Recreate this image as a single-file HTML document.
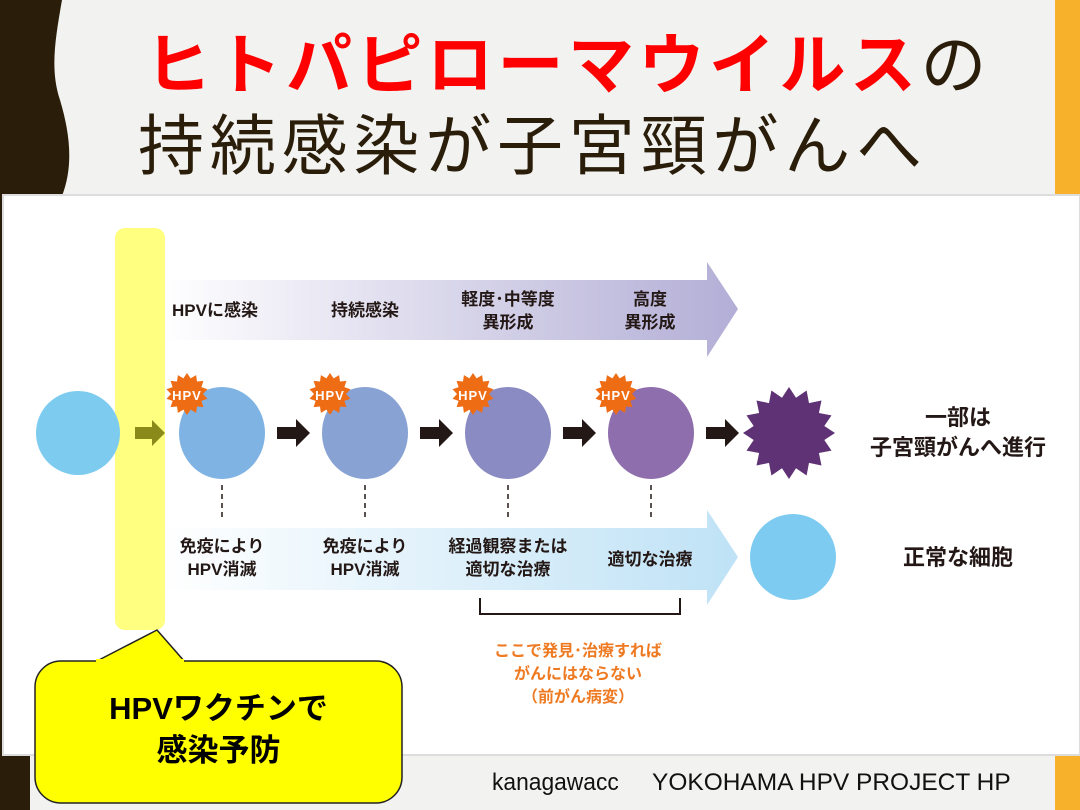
<!DOCTYPE html>
<html><head><meta charset="utf-8"><style>
body{margin:0;width:1080px;height:810px;overflow:hidden;background:#f2f2f0;position:relative;font-family:"Liberation Sans","Noto Sans CJK JP",sans-serif}
.a{position:absolute}
.t{position:absolute;white-space:nowrap;text-align:center;font-weight:bold;color:#231815}
</style></head><body>
<svg class="a" style="left:0;top:0" width="1080" height="810">
<path d="M0 0 H62 C55 40 50 70 60 100 C72 140 72 170 62 196 H0Z" fill="#2a1e0a"/>
<rect x="1055" y="0" width="25" height="196" fill="#f7b12a"/>
<rect x="1055" y="755" width="25" height="55" fill="#f7b12a"/>
<rect x="0" y="755" width="30" height="55" fill="#2a1e0a"/>
<rect x="0" y="196" width="4" height="560" fill="#2a1e0a"/>
<rect x="3" y="195" width="1077" height="560" fill="#fff" stroke="#ddd" stroke-width="2"/>
<defs>
<linearGradient id="g1" x1="0" x2="1"><stop offset="0" stop-color="#fff"/><stop offset="1" stop-color="#b3aed6"/></linearGradient>
<linearGradient id="g2" x1="0" x2="1"><stop offset="0" stop-color="#fff"/><stop offset="1" stop-color="#bfe2f6"/></linearGradient>
</defs>
<path d="M160 280 H707 V262 L738 309 L707 357 V340 H160Z" fill="url(#g1)"/>
<path d="M160 528 H707 V510 L738 557 L707 605 V590 H160Z" fill="url(#g2)"/>
<rect x="115" y="228" width="50" height="402" rx="10" fill="#ffff80"/>
<circle cx="78" cy="433" r="42" fill="#7dccf0"/>
<path d="M135 427 H152 V420 L165 433 L152 446 V439 H135Z" fill="#8a8a1a"/>
<g fill="#231815">
<path d="M277 427 H296 V419 L310 433 L296 447 V439 H277Z"/>
<path d="M420 427 H439 V419 L453 433 L439 447 V439 H420Z"/>
<path d="M563 427 H582 V419 L596 433 L582 447 V439 H563Z"/>
<path d="M706 427 H725 V419 L739 433 L725 447 V439 H706Z"/>
</g>
<ellipse cx="222" cy="433" rx="43" ry="46" fill="#7fb3e3"/>
<ellipse cx="365" cy="433" rx="43" ry="46" fill="#88a2d4"/>
<ellipse cx="508" cy="433" rx="43" ry="46" fill="#8b8bc3"/>
<ellipse cx="651" cy="433" rx="43" ry="46" fill="#8f6ead"/>
<g stroke="#231815" stroke-width="1.5" stroke-dasharray="5,4">
<line x1="222" y1="485" x2="222" y2="518"/><line x1="365" y1="485" x2="365" y2="518"/>
<line x1="508" y1="485" x2="508" y2="518"/><line x1="651" y1="485" x2="651" y2="518"/>
</g>
<path d="M480 598 V614 H680 V598" fill="none" stroke="#231815" stroke-width="2"/>
<circle cx="793" cy="557" r="43" fill="#7ecbf1"/>
<path d="M95 662 L157 630 L185 662" fill="#ffff00" stroke="#222" stroke-width="1.5"/>
<rect x="35" y="661" width="367" height="142" rx="26" fill="#ffff00" stroke="#222" stroke-width="1.5"/>
<rect x="96" y="659" width="88" height="5" fill="#ffff00"/>
</svg>
<svg class="a" style="left:0;top:0" width="1080" height="810" id="stars"></svg>
<script>
function star(cx,cy,n,ro,ri,c){let p=[];for(let i=0;i<2*n;i++){let r=i%2?ri:ro,a=Math.PI*i/n-Math.PI/2;p.push((cx+r*Math.cos(a)).toFixed(1)+","+(cy+r*Math.sin(a)).toFixed(1));}return '<polygon points="'+p.join(" ")+'" fill="'+c+'"/>';}
let s="";[187,330,473,616].forEach(x=>{s+=star(x,394,14,21,16,"#ee6c14")+'<text x="'+x+'" y="400" font-size="13" font-weight="bold" fill="#fff" text-anchor="middle" font-family="Liberation Sans" letter-spacing="1">HPV</text>';});
s+=star(789,433,16,46,36,"#5e3275");
document.getElementById("stars").innerHTML=s;
</script>
<div class="a" style="left:145px;top:12px;font-size:66px;letter-spacing:4.5px;color:#ff0000;font-weight:bold;white-space:nowrap">ヒトパピローマウイルス<span style="color:#2a1e0a;font-weight:normal">の</span></div>
<div class="a" style="left:138px;top:93px;font-size:66px;letter-spacing:5.8px;color:#2a1e0a;white-space:nowrap">持続感染が子宮頸がんへ</div>
<div class="t" style="left:165px;top:296px;width:100px;font-size:17px">HPVに感染</div>
<div class="t" style="left:315px;top:296px;width:100px;font-size:17px">持続感染</div>
<div class="t" style="left:448px;top:288px;width:120px;font-size:17px;line-height:23px">軽度･中等度<br>異形成</div>
<div class="t" style="left:600px;top:288px;width:100px;font-size:17px;line-height:23px">高度<br>異形成</div>
<div class="t" style="left:162px;top:535px;width:120px;font-size:17px;line-height:23px">免疫により<br>HPV消滅</div>
<div class="t" style="left:305px;top:535px;width:120px;font-size:17px;line-height:23px">免疫により<br>HPV消滅</div>
<div class="t" style="left:438px;top:535px;width:140px;font-size:17px;line-height:23px">経過観察または<br>適切な治療</div>
<div class="t" style="left:590px;top:545px;width:120px;font-size:17px">適切な治療</div>
<div class="t" style="left:848px;top:403px;width:220px;font-size:22px;line-height:30px">一部は<br>子宮頸がんへ進行</div>
<div class="t" style="left:848px;top:540px;width:220px;font-size:22px">正常な細胞</div>
<div class="t" style="left:478px;top:640px;width:200px;font-size:16px;line-height:23px;color:#ee7a22">ここで発見･治療すれば<br>がんにはならない<br>（前がん病変）</div>
<div class="t" style="left:35px;top:688px;width:367px;font-size:31px;line-height:42px;color:#000">HPVワクチンで<br>感染予防</div>
<div class="a" style="left:492px;top:769px;font-size:24px;color:#111;white-space:nowrap;transform:scaleX(0.95);transform-origin:left">kanagawacc</div>
<div class="a" style="left:652px;top:769px;font-size:24px;color:#111;white-space:nowrap;transform:scaleX(1.02);transform-origin:left">YOKOHAMA HPV PROJECT HP</div>
</body></html>
